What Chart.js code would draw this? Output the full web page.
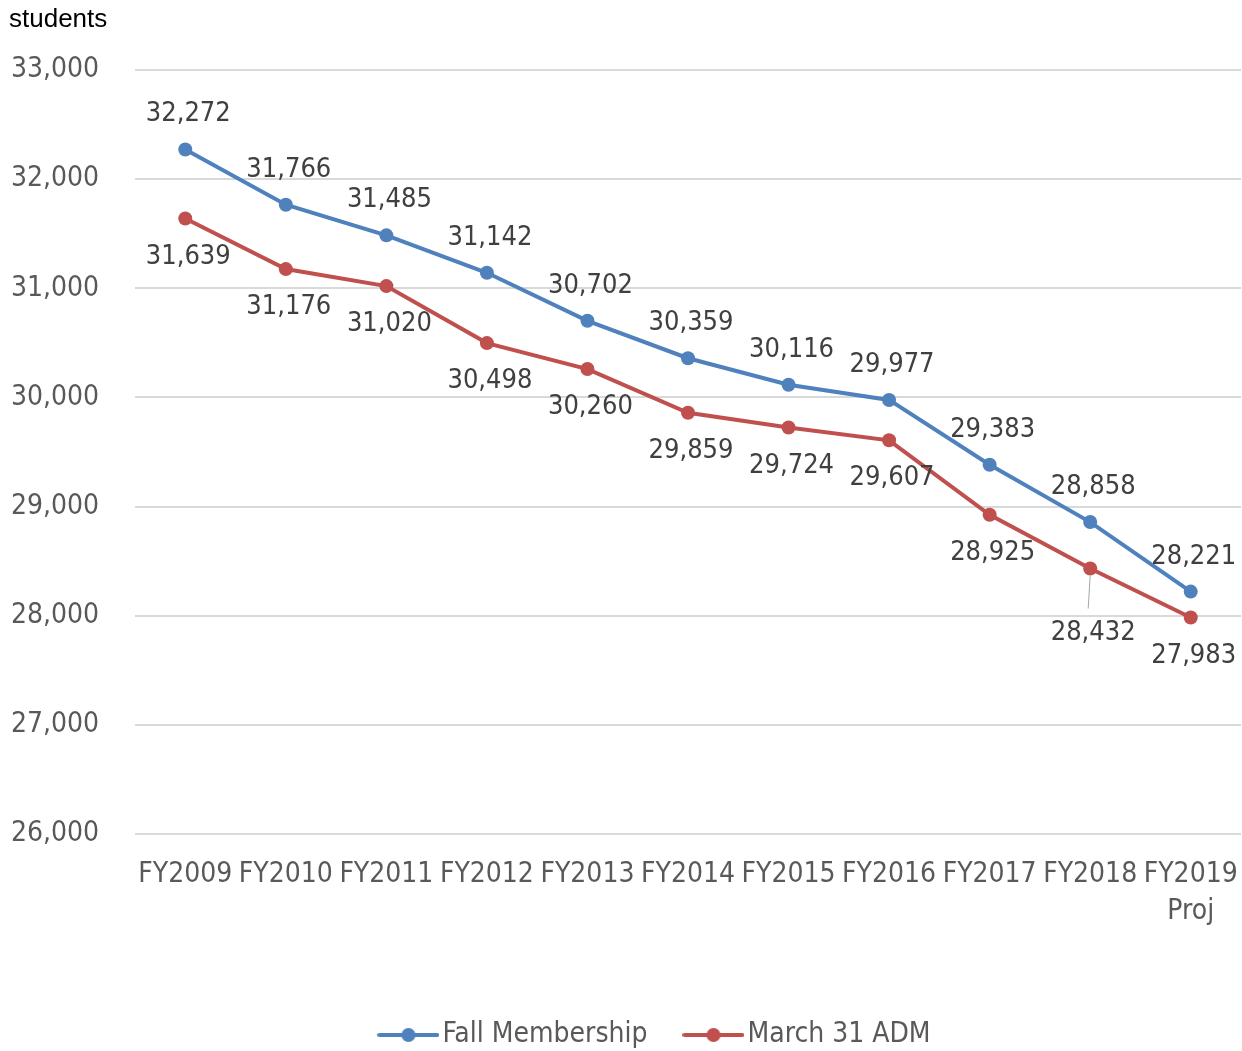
<!DOCTYPE html>
<html>
<head>
<meta charset="utf-8">
<script src="https://cdn.jsdelivr.net/npm/chart.js@4.4.1/dist/chart.umd.min.js"></script>
<style>
  html, body { margin: 0; padding: 0; background: #ffffff; }
  #wrap { width: 1242px; height: 1051px; position: relative; }
</style>
</head>
<body>
<div id="wrap"><canvas id="enrollChart" width="1242" height="1051"></canvas></div>
<script>
// Années scolaires (la dernière est une projection)
const years = ['FY2009', 'FY2010', 'FY2011', 'FY2012', 'FY2013', 'FY2014',
               'FY2015', 'FY2016', 'FY2017', 'FY2018', ['FY2019', 'Proj']];
const fallMembership = [32272, 31766, 31485, 31142, 30702, 30359, 30116, 29977, 29383, 28858, 28221];
const march31ADM = [31639, 31176, 31020, 30498, 30260, 29859, 29724, 29607, 28925, 28432, 27983];
const seriesNames = ['Fall Membership', 'March 31 ADM'];
const yTicks = { min: 26000, max: 33000, step: 1000 };
const unitLabel = 'students';

const BLUE = '#4F81BD';
const RED = '#C0504D';
const NARROW = '"Liberation Sans Narrow", "DejaVu Sans Condensed", "Arial Narrow", sans-serif';

const fmt = (v) => v.toLocaleString('en-US');

// petit pictogramme ligne + point pour la légende
const legendIcon = (color) => {
    const c = document.createElement('canvas');
    c.width = 62; c.height = 18;
    const g = c.getContext('2d');
    g.strokeStyle = color;
    g.lineWidth = 4;
    g.lineCap = 'round';
    g.beginPath(); g.moveTo(2, 9); g.lineTo(60, 9); g.stroke();
    g.fillStyle = color;
    g.beginPath(); g.arc(31, 9, 7, 0, Math.PI * 2); g.fill();
    return c;
};

// étiquettes de valeurs + titre de l'axe
const valueLabels = {
    id: 'valueLabels',
    afterLayout(chart, args, opts) {
        // la légende est centrée sous la zone de tracé, pas sous le canvas
        chart.legend.left += opts.legendShift;
        chart.legend.right += opts.legendShift;
    },
    afterDatasetsDraw(chart, args, opts) {
        const ctx = chart.ctx;
        ctx.save();
        ctx.font = opts.size + 'px ' + NARROW;
        ctx.fillStyle = '#404040';
        ctx.textAlign = 'center';
        ctx.textBaseline = 'middle';
        chart.data.datasets.forEach((ds, di) => {
            const meta = chart.getDatasetMeta(di);
            meta.data.forEach((pt, i) => {
                let dy = di === 0 ? opts.above : opts.below;
                const pushed = opts.pushed.find(p => p.dataset === di && p.index === i);
                if (pushed) {
                    dy = pushed.dy;
                    ctx.strokeStyle = '#a6a6a6';
                    ctx.lineWidth = 1;
                    ctx.beginPath();
                    ctx.moveTo(pt.x, pt.y + 7);
                    ctx.lineTo(pt.x - 2, pt.y + dy - 24);
                    ctx.stroke();
                }
                ctx.fillText(fmt(ds.data[i]), pt.x + opts.dx, pt.y + dy);
            });
        });
        ctx.restore();
    },
    afterDraw(chart) {
        const ctx = chart.ctx;
        ctx.save();
        ctx.font = '26px "Liberation Sans", Arial, sans-serif';
        ctx.fillStyle = '#000000';
        ctx.textAlign = 'left';
        ctx.textBaseline = 'middle';
        ctx.fillText(unitLabel, 9, 20);
        ctx.restore();
    }
};

Chart.defaults.font.family = NARROW;
Chart.defaults.color = '#595959';

const ctx = document.getElementById('enrollChart').getContext('2d');
const enrollChart = new Chart(ctx, {
    type: 'line',
    data: {
        labels: years,
        datasets: [{
            label: seriesNames[0],
            data: fallMembership,
            borderColor: BLUE,
            backgroundColor: BLUE,
            borderWidth: 4,
            pointRadius: 7,
            pointHoverRadius: 7,
            pointBorderWidth: 0,
            pointStyle: 'circle',
            tension: 0,
            clip: false
        }, {
            label: seriesNames[1],
            data: march31ADM,
            borderColor: RED,
            backgroundColor: RED,
            borderWidth: 4,
            pointRadius: 7,
            pointHoverRadius: 7,
            pointBorderWidth: 0,
            pointStyle: 'circle',
            tension: 0,
            clip: false
        }]
    },
    options: {
        responsive: false,
        animation: false,
        // pas de marge automatique autour des points
        layout: { autoPadding: false, padding: { top: 70, left: 0, right: 1, bottom: -8 } },
        scales: {
            x: {
                offset: true,
                grid: { display: false, drawTicks: false },
                border: { display: false },
                ticks: {
                    font: { size: 28, lineHeight: 1.3 },
                    color: '#595959',
                    padding: 23,
                    maxRotation: 0,
                    autoSkip: false
                },
                afterFit: (s) => {
                    s.height = 181;
                    // pas de marge latérale pour la dernière étiquette
                    s.paddingLeft = 0;
                    s.paddingRight = 0;
                }
            },
            y: {
                min: yTicks.min,
                max: yTicks.max,
                grid: { color: '#d9d9d9', lineWidth: 2, drawTicks: false },
                border: { display: false },
                ticks: {
                    stepSize: yTicks.step,
                    font: { size: 28 },
                    color: '#595959',
                    padding: 36,
                    callback: (v) => fmt(v)
                },
                afterFit: (s) => { s.width = 135; }
            }
        },
        plugins: {
            legend: {
                position: 'bottom',
                labels: {
                    usePointStyle: true,
                    pointStyleWidth: 40,
                    font: { size: 28 },
                    color: '#595959',
                    padding: 6,
                    generateLabels: (chart) => chart.data.datasets.map((ds, i) => ({
                        text: i === 0 ? ds.label + '     ' : ds.label,
                        fillStyle: ds.borderColor,
                        strokeStyle: ds.borderColor,
                        lineWidth: 0,
                        pointStyle: legendIcon(ds.borderColor),
                        fontColor: '#595959',
                        datasetIndex: i
                    }))
                }
            },
            tooltip: { enabled: false },
            valueLabels: {
                size: 27,
                above: -35,
                below: 38,
                dx: 3,
                legendShift: 39,
                pushed: [{ dataset: 1, index: 9, dy: 64 }]
            }
        }
    },
    plugins: [valueLabels]
});
</script>
</body>
</html>
